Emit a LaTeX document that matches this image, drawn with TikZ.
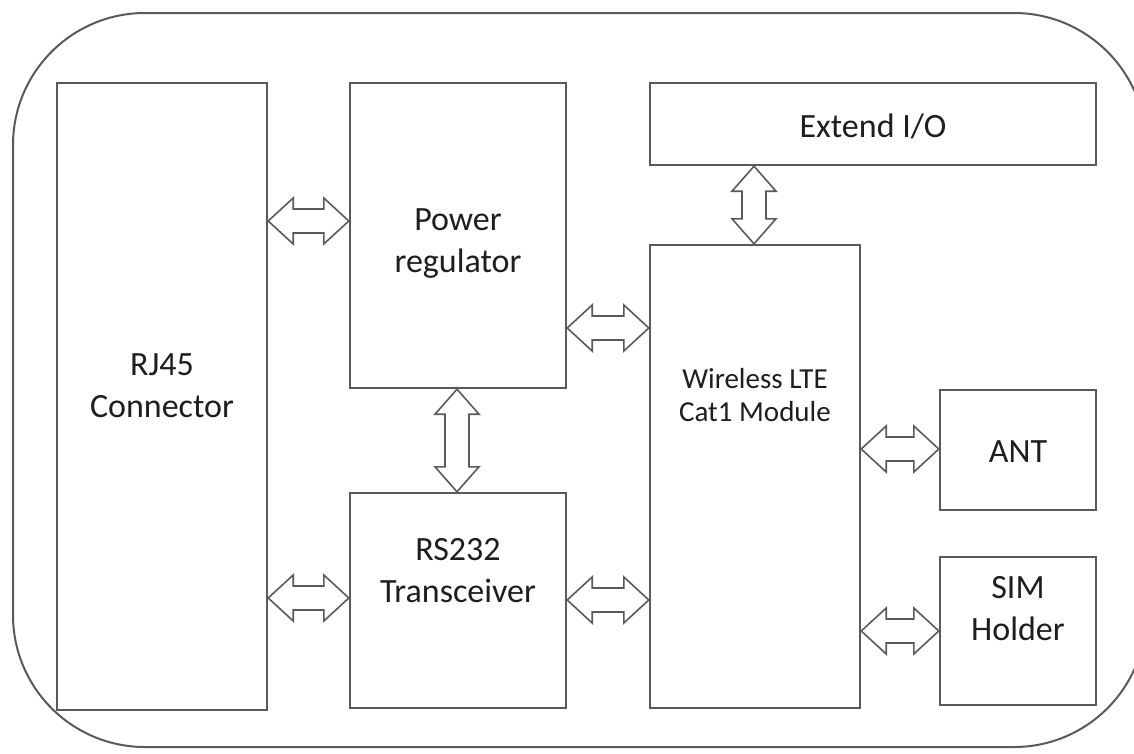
\documentclass[tikz,border=0pt]{standalone}
\usepackage{fontspec}
\setmainfont{Carlito}
\usetikzlibrary{calc}
\definecolor{linegray}{HTML}{5A5A5A}
\definecolor{txt}{HTML}{1E1E1E}
\tikzset{
  blk/.style={draw=linegray, line width=2.4pt, fill=white, inner sep=0pt},
  lbl/.style={text=txt, align=center, inner sep=0pt, font=\fontsize{34}{42}\selectfont},
  small/.style={font=\fontsize{29}{33}\selectfont},
  harrow/.style={draw=linegray, line width=1.6pt, line join=miter,
    to path={let \p1=(\tikztostart), \p2=(\tikztotarget) in
      (\x1,\y1) -- ({\x1+25pt},{\y1+23pt}) -- ({\x1+25pt},{\y1+12pt}) -- ({\x2-25pt},{\y1+12pt})
      -- ({\x2-25pt},{\y1+23pt}) -- (\x2,\y1) -- ({\x2-25pt},{\y1-23pt}) -- ({\x2-25pt},{\y1-12pt})
      -- ({\x1+25pt},{\y1-12pt}) -- ({\x1+25pt},{\y1-23pt}) -- cycle}},
  varrow/.style={draw=linegray, line width=1.6pt, line join=miter,
    to path={let \p1=(\tikztostart), \p2=(\tikztotarget) in
      (\x1,\y1) -- ({\x1+22pt},{\y1-25pt}) -- ({\x1+12pt},{\y1-25pt}) -- ({\x1+12pt},{\y2+25pt})
      -- ({\x1+22pt},{\y2+25pt}) -- (\x1,\y2) -- ({\x1-22pt},{\y2+25pt}) -- ({\x1-12pt},{\y2+25pt})
      -- ({\x1-12pt},{\y1-25pt}) -- ({\x1-22pt},{\y1-25pt}) -- cycle}}
}
\begin{document}
\begin{tikzpicture}[x=1pt,y=-1pt]
\useasboundingbox (0,0) rectangle (1134,753);
\clip (0,0) rectangle (1134,753);
\draw[linegray, line width=2pt, rounded corners=132pt] (13,13) rectangle (1146,747);
% blocks
\node[blk, minimum width=210, minimum height=627] (rj45) at (162,396.5) {};
\node[blk, minimum width=216, minimum height=305] (pwr) at (458,235.5) {};
\node[blk, minimum width=216, minimum height=215] (rs) at (458,600.5) {};
\node[blk, minimum width=446, minimum height=82] (ext) at (873,124) {};
\node[blk, minimum width=210, minimum height=463] (wls) at (755,476.5) {};
\node[blk, minimum width=156, minimum height=120] (ant) at (1018,450) {};
\node[blk, minimum width=156, minimum height=148] (sim) at (1018,631) {};
% labels
\node[lbl] (rj45t) at (162,386) {RJ45\\Connector};
\node[lbl] (pwrt) at (458,244) {Power\\regulator};
\node[lbl] (rst) at (458,571) {RS232\\Transceiver};
\node[lbl] (extt) at (873,126) {Extend I/O};
\node[lbl, small] (wlst) at (755,395) {Wireless LTE\\Cat1 Module};
\node[lbl] (antt) at (1018,452) {ANT};
\node[lbl] (simt) at (1018,609) {SIM\\Holder};
% connectors
\coordinate (a1) at (0,221);
\coordinate (a2) at (0,598);
\coordinate (a3) at (457,0);
\coordinate (a4) at (0,328);
\coordinate (a5) at (0,600);
\coordinate (a6) at (754,0);
\coordinate (a7) at (0,449);
\coordinate (a8) at (0,631);
\draw[harrow] (rj45.east |- a1) to (pwr.west |- a1);
\draw[harrow] (rj45.east |- a2) to (rs.west |- a2);
\draw[varrow] (pwr.south -| a3) to (rs.north -| a3);
\draw[harrow] (pwr.east |- a4) to (wls.west |- a4);
\draw[harrow] (rs.east |- a5) to (wls.west |- a5);
\draw[varrow] (ext.south -| a6) to (wls.north -| a6);
\draw[harrow] (wls.east |- a7) to (ant.west |- a7);
\draw[harrow] (wls.east |- a8) to (sim.west |- a8);
\end{tikzpicture}
\end{document}
